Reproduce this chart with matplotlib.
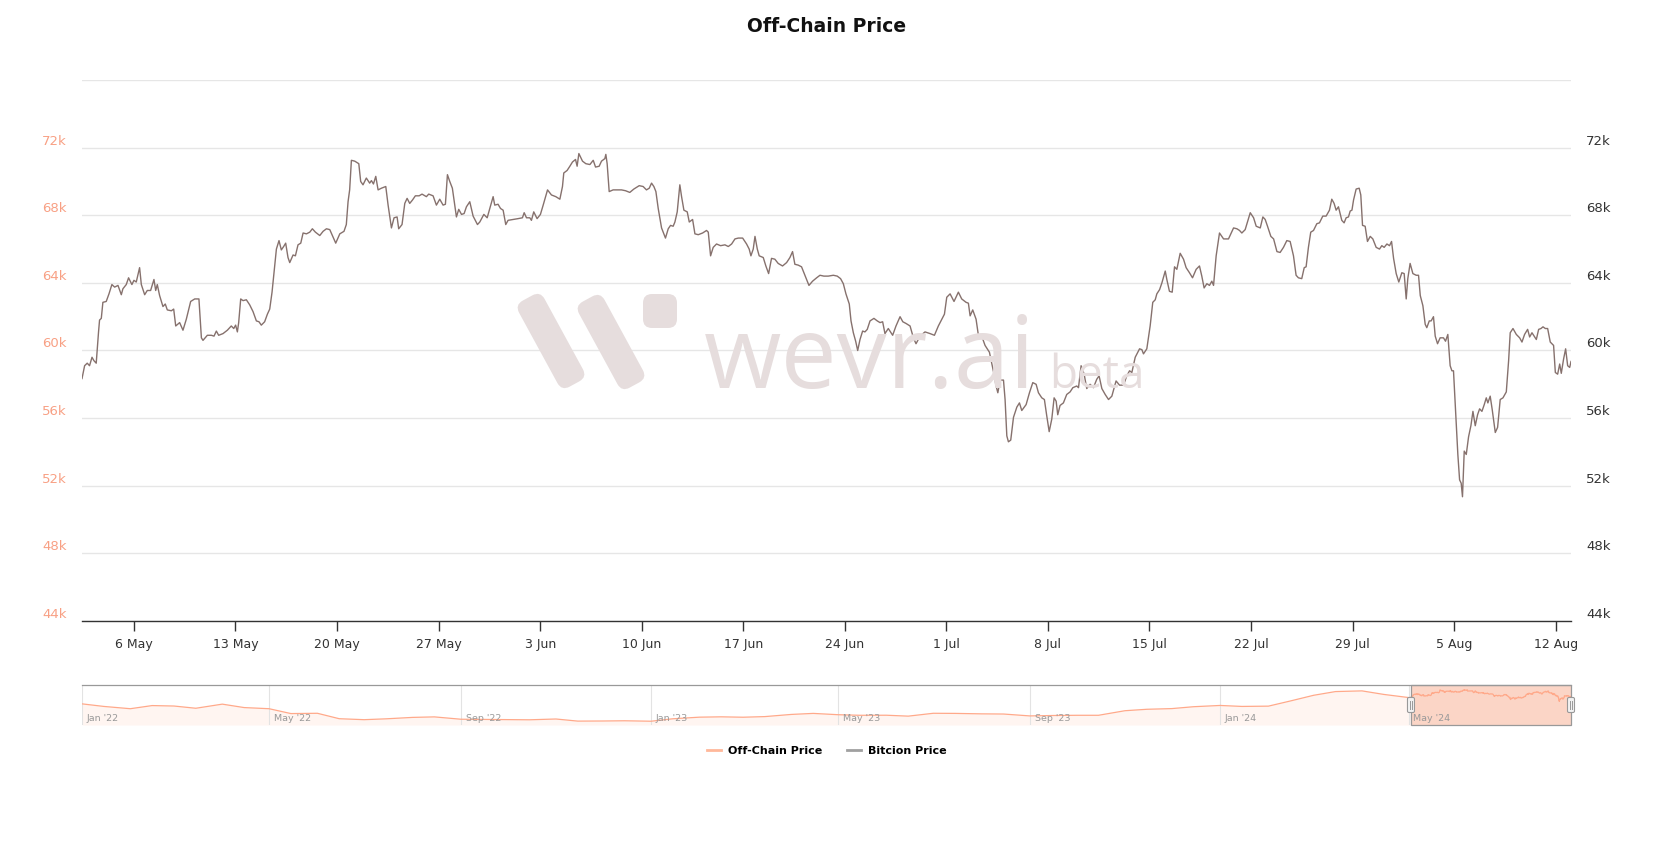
import numpy as np
import pandas as pd
import matplotlib
matplotlib.use('Agg')
import matplotlib.pyplot as plt
import matplotlib.dates as mdates
import matplotlib.transforms as mtransforms
from matplotlib.patches import FancyBboxPatch, Rectangle
from matplotlib.lines import Line2D
from matplotlib.ticker import FuncFormatter

# ===== Data: hourly-ish price, split by month (fractional day of month, USD) =====
may_day = [
    2.42, 2.60, 2.78, 2.94, 3.11, 3.24, 3.40, 3.56, 3.63, 3.75,
    3.86, 4.09, 4.28, 4.48, 4.67, 4.90, 5.13, 5.24, 5.47, 5.63,
    5.86, 6.00, 6.16, 6.39, 6.51, 6.74, 6.92, 7.15, 7.38, 7.50,
    7.61, 7.77, 8.00, 8.16, 8.30, 8.58, 8.74, 8.88, 9.15, 9.38,
    9.61, 9.91, 10.19, 10.48, 10.65, 10.76, 11.06, 11.34, 11.52, 11.68,
    11.84, 12.14, 12.44, 12.71, 12.88, 13.01, 13.13, 13.22, 13.36, 13.52,
    13.75, 13.98, 14.21, 14.44, 14.62, 14.78, 15.01, 15.20, 15.36, 15.52,
    15.70, 15.82, 16.00, 16.16, 16.32, 16.46, 16.62, 16.74, 16.97, 17.13,
    17.31, 17.50, 17.66, 17.89, 18.12, 18.30, 18.51, 18.81, 19.04, 19.27,
    19.50, 19.73, 19.91, 20.19, 20.48, 20.64, 20.76, 20.87, 20.99, 21.22,
    21.50, 21.63, 21.79, 22.02, 22.25, 22.37, 22.51, 22.67, 22.83, 23.06,
    23.36, 23.52, 23.75, 23.93, 24.14, 24.25, 24.48, 24.67, 24.83, 25.01,
    25.20, 25.40, 25.66, 25.86, 26.16, 26.32, 26.62, 26.85, 27.08, 27.31,
    27.47, 27.61, 27.77, 27.95, 28.23, 28.39, 28.58, 28.76, 28.92, 29.15,
    29.38, 29.68, 29.84, 30.12, 30.35, 30.53, 30.76, 30.87, 31.10, 31.27,
    31.45, 31.63, 31.79]
may_usd = [
    58340, 59100, 59250, 59100, 59600, 59400, 59250, 61100, 61800, 61900,
    62850, 62900, 63350, 63900, 63750, 63850, 63300, 63650, 63900, 64300,
    63900, 64150, 64050, 64900, 63900, 63300, 63550, 63550, 64200, 63550,
    63900, 63250, 62600, 62750, 62400, 62350, 62450, 61450, 61650, 61200,
    61850, 62900, 63050, 63050, 60750, 60600, 60900, 60900, 60850, 61150,
    60900, 61000, 61200, 61450, 61300, 61500, 61100, 61650, 63050, 62950,
    63000, 62700, 62300, 61750, 61700, 61500, 61700, 62150, 62450, 63450,
    65000, 66000, 66500, 65950, 66150, 66350, 65500, 65200, 65650, 65600,
    66250, 66350, 66950, 66900, 67000, 67200, 67000, 66800, 67050, 67200,
    67150, 66700, 66350, 66900, 67050, 67450, 68800, 69500, 71250, 71200,
    71050, 70000, 69800, 70200, 69900, 70050, 69850, 70300, 69500, 69600,
    69700, 68600, 67250, 67850, 67900, 67200, 67450, 68700, 69000, 68700,
    68900, 69150, 69150, 69250, 69100, 69250, 69150, 68600, 68950, 68600,
    68650, 70400, 70000, 69600, 67900, 68350, 68050, 68100, 68500, 68800,
    67950, 67450, 67600, 68050, 67850, 68400, 69100, 68600, 68650, 68400,
    68300, 67450, 67700]

jun_day = [
    1.14, 1.48, 1.78, 1.90, 2.06, 2.29, 2.40, 2.56, 2.79, 3.02,
    3.21, 3.51, 3.78, 4.08, 4.36, 4.54, 4.63, 4.86, 5.05, 5.23,
    5.44, 5.55, 5.67, 5.92, 6.15, 6.43, 6.66, 6.82, 7.07, 7.23,
    7.46, 7.53, 7.62, 7.76, 8.03, 8.38, 8.61, 8.89, 9.18, 9.46,
    9.83, 10.10, 10.33, 10.52, 10.68, 10.84, 10.98, 11.14, 11.37, 11.64,
    11.83, 11.99, 12.17, 12.29, 12.45, 12.63, 12.75, 12.91, 13.14, 13.28,
    13.51, 13.67, 13.90, 14.20, 14.47, 14.59, 14.75, 14.93, 15.16, 15.44,
    15.74, 15.97, 16.20, 16.43, 16.66, 16.96, 17.23, 17.41, 17.53, 17.69,
    17.81, 17.97, 18.10, 18.38, 18.56, 18.75, 18.95, 19.18, 19.41, 19.71,
    19.99, 20.22, 20.40, 20.56, 20.79, 21.02, 21.25, 21.53, 21.78, 22.06,
    22.29, 22.56, 22.86, 23.21, 23.48, 23.71, 23.90, 24.08, 24.31, 24.43,
    24.59, 24.75, 24.89, 25.05, 25.23, 25.39, 25.55, 25.74, 26.01, 26.24,
    26.43, 26.61, 26.77, 27.00, 27.30, 27.53, 27.81, 28.00, 28.22, 28.50,
    28.73, 28.91, 29.19, 29.53, 29.88, 30.18, 30.45, 30.87]
jun_usd = [
    67750, 67800, 67850, 68150, 67850, 67850, 67700, 68200, 67800, 68050,
    68600, 69500, 69200, 69100, 68950, 69700, 70500, 70650, 70900, 71150,
    71300, 70900, 71650, 71200, 71050, 71000, 71250, 70850, 70900, 71200,
    71350, 71600, 71050, 69400, 69500, 69500, 69500, 69450, 69350, 69550,
    69750, 69700, 69500, 69600, 69900, 69700, 69400, 68400, 67250, 66650,
    67200, 67400, 67350, 67600, 68200, 69800, 69100, 68300, 68200, 67600,
    67750, 66900, 66850, 66950, 67100, 67000, 65600, 66100, 66300, 66200,
    66250, 66150, 66300, 66600, 66650, 66650, 66300, 66000, 65600, 66000,
    66750, 66000, 65600, 65500, 65000, 64550, 65450, 65400, 65150, 65000,
    65200, 65500, 65850, 65100, 65050, 64950, 64450, 63850, 64100, 64300,
    64450, 64400, 64400, 64450, 64400, 64250, 63950, 63350, 62750, 61750,
    61050, 60550, 60000, 60650, 61150, 61100, 61250, 61750, 61900, 61750,
    61650, 61700, 61000, 61300, 60900, 61450, 62000, 61700, 61600, 61450,
    60750, 60400, 60850, 61100, 61000, 60900, 61450, 62150]

jul_day = [
    1.03, 1.26, 1.53, 1.83, 2.06, 2.36, 2.52, 2.64, 2.82, 3.05,
    3.21, 3.44, 3.67, 3.97, 4.25, 4.43, 4.55, 4.71, 4.94, 5.05,
    5.17, 5.28, 5.44, 5.63, 5.86, 6.04, 6.20, 6.50, 6.73, 6.96,
    7.19, 7.35, 7.58, 7.76, 7.92, 8.09, 8.27, 8.43, 8.57, 8.68,
    8.84, 9.07, 9.30, 9.53, 9.72, 9.99, 10.11, 10.29, 10.50, 10.68,
    10.91, 11.14, 11.37, 11.53, 11.72, 11.95, 12.18, 12.41, 12.70, 12.94,
    13.21, 13.44, 13.63, 13.79, 14.02, 14.32, 14.48, 14.59, 14.82, 15.05,
    15.23, 15.40, 15.51, 15.70, 15.86, 16.09, 16.20, 16.38, 16.57, 16.73,
    16.89, 17.12, 17.35, 17.53, 17.76, 17.97, 18.22, 18.45, 18.61, 18.77,
    18.96, 19.14, 19.30, 19.42, 19.60, 19.83, 20.11, 20.45, 20.80, 21.03,
    21.21, 21.37, 21.60, 21.72, 21.95, 22.18, 22.36, 22.64, 22.82, 22.98,
    23.14, 23.37, 23.56, 23.79, 24.01, 24.24, 24.47, 24.70, 24.93, 25.11,
    25.27, 25.50, 25.67, 25.80, 25.96, 26.12, 26.31, 26.54, 26.72, 26.95,
    27.18, 27.41, 27.57, 27.73, 27.87, 28.03, 28.26, 28.42, 28.56, 28.72,
    28.84, 28.96, 29.07, 29.25, 29.46, 29.57, 29.69, 29.87, 30.03, 30.22,
    30.40, 30.63, 30.86, 31.02, 31.18, 31.37, 31.55, 31.69, 31.83]
jul_usd = [
    63150, 63350, 62900, 63450, 63050, 62850, 62800, 62050, 62400, 61850,
    60900, 60850, 60300, 59900, 58750, 57900, 57500, 58250, 58250, 57100,
    54950, 54600, 54700, 56050, 56650, 56900, 56450, 56800, 57500, 58100,
    58000, 57500, 57200, 57100, 56150, 55200, 55950, 57200, 57000, 56200,
    56750, 56900, 57400, 57550, 57800, 57900, 57800, 59100, 58600, 57750,
    58000, 57800, 58300, 58500, 57750, 57400, 57100, 57300, 58200, 57950,
    57950, 58500, 58800, 58700, 59600, 60100, 60050, 59800, 60100, 61450,
    62850, 63000, 63350, 63600, 64000, 64700, 64200, 63500, 63450, 64950,
    64800, 65750, 65400, 64900, 64600, 64300, 64800, 65000, 64400, 63700,
    63950, 63850, 64100, 63850, 65600, 66950, 66600, 66600, 67250, 67200,
    67100, 66950, 67150, 67500, 68150, 67850, 67350, 67250, 67900, 67750,
    67350, 66750, 66600, 65850, 65800, 66100, 66500, 66450, 65600, 64450,
    64300, 64250, 64900, 64950, 66100, 67000, 67100, 67500, 67550, 67950,
    67950, 68300, 68950, 68700, 68300, 68500, 67700, 67550, 67850, 67900,
    68250, 68300, 68900, 69550, 69600, 69200, 67400, 67350, 66450, 66750,
    66600, 66100, 66000, 66200, 66100, 66300, 66200, 66450, 65450]

aug_day = [
    1.01, 1.19, 1.40, 1.56, 1.70, 1.81, 1.97, 2.16, 2.39, 2.55,
    2.67, 2.85, 3.01, 3.12, 3.29, 3.42, 3.58, 3.70, 3.86, 4.04,
    4.27, 4.41, 4.57, 4.73, 4.85, 4.96, 5.12, 5.26, 5.38, 5.49,
    5.58, 5.70, 5.84, 6.00, 6.16, 6.30, 6.46, 6.62, 6.76, 6.92,
    7.08, 7.22, 7.33, 7.49, 7.63, 7.84, 8.00, 8.18, 8.37, 8.60,
    8.76, 8.87, 9.06, 9.29, 9.52, 9.68, 9.86, 10.07, 10.21, 10.37,
    10.67, 10.83, 10.99, 11.13, 11.29, 11.45, 11.63, 11.75, 11.86, 11.98,
    12.14, 12.28, 12.39, 12.55, 12.69, 12.83, 12.97, 13.06]
aug_usd = [
    64550, 64050, 64600, 64550, 63050, 64250, 65150, 64550, 64450, 64450,
    63250, 62650, 61550, 61350, 61750, 61750, 62000, 60850, 60400, 60750,
    60750, 60550, 60950, 59100, 58800, 58800, 56100, 53850, 52350, 52150,
    51350, 54050, 53850, 54900, 55550, 56400, 55550, 56200, 56550, 56400,
    56800, 57200, 56900, 57300, 56500, 55150, 55450, 57100, 57200, 57550,
    59400, 61050, 61300, 60950, 60750, 60500, 60950, 61250, 60800, 61050,
    60650, 61250, 61300, 61400, 61300, 61300, 60500, 60400, 60300, 58700,
    58600, 59200, 58650, 59500, 60100, 59100, 59000, 59350]

# navigator history (off-chain price) before the zoomed window
nav_dates = [
    '2022-01-01', '2022-01-15', '2022-02-01', '2022-02-15', '2022-03-01', '2022-03-15',
    '2022-04-01', '2022-04-15', '2022-05-01', '2022-05-15', '2022-06-01', '2022-06-15',
    '2022-07-01', '2022-07-15', '2022-08-01', '2022-08-15', '2022-09-01', '2022-09-15',
    '2022-10-01', '2022-10-15', '2022-11-01', '2022-11-15', '2022-12-01', '2022-12-15',
    '2023-01-01', '2023-01-15', '2023-02-01', '2023-02-15', '2023-03-01', '2023-03-15',
    '2023-04-01', '2023-04-15', '2023-05-01', '2023-05-15', '2023-06-01', '2023-06-15',
    '2023-07-01', '2023-07-15', '2023-08-01', '2023-08-15', '2023-09-01', '2023-09-15',
    '2023-10-01', '2023-10-15', '2023-11-01', '2023-11-15', '2023-12-01', '2023-12-15',
    '2024-01-01', '2024-01-15', '2024-02-01', '2024-02-15', '2024-03-01', '2024-03-15',
    '2024-04-01', '2024-04-15', '2024-05-01']
nav_usd = [
    47000, 42500, 38500, 44000, 43200, 39300,
    46500, 40500, 38500, 30000, 30500, 21000,
    19300, 20800, 23300, 24200, 20100, 19800,
    19400, 19100, 20500, 16800, 17000, 17400,
    16600, 20900, 23700, 24300, 23600, 24700,
    28500, 30300, 28000, 27000, 27100, 25500,
    30500, 30300, 29500, 29200, 25900, 26600,
    27000, 27000, 35000, 37500, 38700, 42000,
    44200, 42500, 43000, 52000, 62000, 68500,
    69700, 63500, 58000]

nav_tick_dates = ['2022-01-01', '2022-05-01', '2022-09-01', '2023-01-01',
                  '2023-05-01', '2023-09-01', '2024-01-01', '2024-05-01']
nav_tick_labels = ["Jan '22", "May '22", "Sep '22", "Jan '23",
                   "May '23", "Sep '23", "Jan '24", "May '24"]

y_ticks = list(range(44000, 76001, 4000))
y_labels = [f'{v // 1000}k' for v in y_ticks[:-1]] + ['']

# ===== Build time series =====
parts = [('2024-05-01', may_day, may_usd), ('2024-06-01', jun_day, jun_usd),
         ('2024-07-01', jul_day, jul_usd), ('2024-08-01', aug_day, aug_usd)]
times, prices = [], []
for start, days, vals in parts:
    assert len(days) == len(vals)
    times.append(pd.Timestamp(start) + pd.to_timedelta(np.array(days) - 1, unit='D'))
    prices.append(np.array(vals, dtype=float))
times = pd.DatetimeIndex(np.concatenate([t.values for t in times]))
prices = np.concatenate(prices)

nav_t = pd.DatetimeIndex(list(pd.to_datetime(nav_dates)) + list(times))
nav_v = np.concatenate([np.array(nav_usd, dtype=float), prices])

# ===== Figure =====
W, H = 1653, 842
fig = plt.figure(figsize=(W / 100, H / 100), dpi=100)
fig.patch.set_facecolor('white')

# background layer for the watermark (pixel coordinates, y down)
bg = fig.add_axes([0, 0, 1, 1], zorder=0)
bg.set_xlim(0, W)
bg.set_ylim(H, 0)
bg.axis('off')
wm = '#e6dddd'
for cx, cy in [(551, 341), (611, 342)]:
    bar = FancyBboxPatch((-49, -14.5), 98, 29, boxstyle='round,pad=0,rounding_size=9',
                         fc=wm, ec='none')
    bar.set_transform(mtransforms.Affine2D().rotate_deg(61.4).translate(cx, cy) + bg.transData)
    bg.add_patch(bar)
bg.add_patch(FancyBboxPatch((643, 294), 34, 34, boxstyle='round,pad=0,rounding_size=9',
                            fc=wm, ec='none'))
bg.text(704, 388, 'wevr.ai', fontsize=72, color=wm, family='Open Sans',
        ha='left', va='baseline')
bg.text(1049, 388, 'beta', fontsize=33, color=wm, family='Open Sans',
        ha='left', va='baseline')

# ----- main chart -----
ax = fig.add_axes([82 / W, 1 - 621 / H, 1489 / W, 541 / H], zorder=1)
ax.patch.set_alpha(0)
ax.plot(times, prices, color='#86716d', lw=1.0, zorder=3)
ax.set_xlim(times[0], times[-1])
ax.set_ylim(44000, 76000)

ax.set_yticks(y_ticks)
ax.set_yticklabels(y_labels)
ax.yaxis.grid(True, color='#e6e6e6', lw=1)
ax.set_axisbelow(True)
ax.tick_params(axis='y', length=0, pad=11, labelsize=9.5, labelcolor='#f8a084')
plt.setp(ax.get_yticklabels(), va='bottom')

weeks = pd.date_range('2024-05-06', '2024-08-12', freq='7D')
ax.set_xticks(mdates.date2num(weeks))
ax.xaxis.set_major_formatter(FuncFormatter(
    lambda x, pos: f"{mdates.num2date(x).day} {mdates.num2date(x):%b}"))
ax.tick_params(axis='x', length=7, width=1, color='#333333', labelsize=9,
               labelcolor='#333333', pad=5)
for s in ['top', 'left', 'right']:
    ax.spines[s].set_visible(False)
ax.spines['bottom'].set_color('#333333')
ax.spines['bottom'].set_linewidth(1)

ax2 = ax.twinx()
ax2.set_ylim(ax.get_ylim())
ax2.set_yticks(y_ticks)
ax2.set_yticklabels(y_labels)
ax2.tick_params(axis='y', length=0, pad=11, labelsize=9.5, labelcolor='#333333')
plt.setp(ax2.get_yticklabels(), va='bottom')
for s in ax2.spines.values():
    s.set_visible(False)

fig.text(0.5, 1 - 26 / H, 'Off-Chain Price', ha='center', va='center',
         fontsize=13.5, fontweight='bold', color='#111111')

# ----- navigator -----
nav = fig.add_axes([82 / W, 1 - 725 / H, 1489 / W, 40 / H], zorder=1)
nav.set_xlim(pd.Timestamp('2022-01-01'), times[-1])
nav.set_ylim(10000, 80000)
nav.fill_between(nav_t, nav_v, 10000, color='#fff5f1', lw=0, zorder=1)
nav.axvspan(times[0], times[-1], color='#fbd5c6', lw=0, zorder=2)
nav.plot(nav_t, nav_v, color='#ffa98a', lw=0.9, zorder=3)
for d, lab in zip(pd.to_datetime(nav_tick_dates), nav_tick_labels):
    nav.axvline(d, color='#e3e3e3', lw=0.8, zorder=1.5)
    nav.text(d + pd.Timedelta(days=3), 0.06, lab, transform=nav.get_xaxis_transform(),
             fontsize=6.8, color='#999999', ha='left', va='bottom', zorder=4)
nav.set_xticks([])
nav.set_yticks([])
for s in ['left', 'right', 'bottom']:
    nav.spines[s].set_visible(False)
nav.spines['top'].set_color('#999999')
nav.spines['top'].set_linewidth(0.9)
nav.add_patch(Rectangle((mdates.date2num(times[0]), 0),
                        mdates.date2num(times[-1]) - mdates.date2num(times[0]), 1,
                        transform=nav.get_xaxis_transform(), fill=False,
                        ec='#999999', lw=0.9, zorder=5, clip_on=False))

# navigator handles (placed in pixel space at the selection edges)
fig.canvas.draw()
for t in [times[0], times[-1]]:
    px = nav.transData.transform((mdates.date2num(t), 0))[0]
    hx, hy = px, H - nav.transAxes.transform((0, 0.5))[1]
    bg.add_patch(FancyBboxPatch((hx - 3.5, hy - 7.5), 7, 15,
                                boxstyle='round,pad=0,rounding_size=1.5',
                                fc='#f2f2f2', ec='#999999', lw=0.8, zorder=10))
    for dx in (-1.2, 1.2):
        bg.plot([hx + dx, hx + dx], [hy - 4, hy + 4], color='#999999', lw=0.7, zorder=11)
bg.set_zorder(3)
bg.patch.set_alpha(0)

# ----- legend -----
handles = [Line2D([], [], color='#ffb89a', lw=2), Line2D([], [], color='#a0a0a0', lw=2)]
fig.legend(handles, ['Off-Chain Price', 'Bitcion Price'], loc='center',
           bbox_to_anchor=(0.5, 1 - 751 / H), ncol=2, frameon=False,
           handlelength=1.3, columnspacing=2.2, handletextpad=0.6,
           prop={'size': 8, 'weight': 'bold'})

fig.savefig('out.png', dpi=100, facecolor='white')
